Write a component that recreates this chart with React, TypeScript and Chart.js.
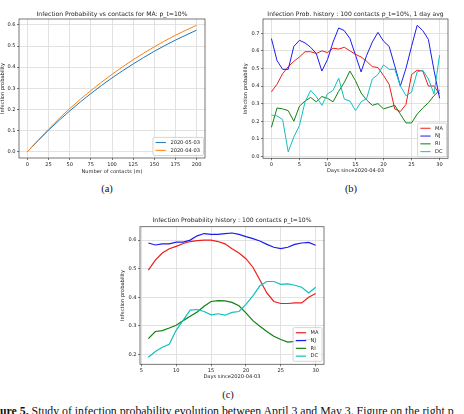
import React, { useEffect, useRef } from "react";
import { Chart, registerables } from "chart.js";
Chart.register(...registerables);

// ---------- (a) Infection probability vs contacts ----------
const contacts = [0, 25, 50, 75, 100, 125, 150, 175, 200];
const probMay03 = [0, 0.102, 0.193, 0.275, 0.349, 0.415, 0.475, 0.528, 0.575];
const probApr03 = [0, 0.107, 0.204, 0.289, 0.366, 0.435, 0.496, 0.551, 0.598];
const contactTicks = [0, 25, 50, 75, 100, 125, 150, 175, 200];
const probTicksA = [0, 0.1, 0.2, 0.3, 0.4, 0.5, 0.6];

// ---------- (b) 1 day avg history ----------
const daysB = [0, 1, 2, 3, 4, 5, 6, 7, 8, 9, 10, 11, 12, 13, 14, 15, 16, 17, 18, 19, 20, 21, 22, 23, 24, 25, 26, 27, 28, 29, 30];
const maDaily = [0.367, 0.41, 0.47, 0.51, 0.54, 0.565, 0.595, 0.595, 0.585, 0.6, 0.59, 0.615, 0.61, 0.62, 0.6, 0.58, 0.565, 0.54, 0.51, 0.505, 0.46, 0.41, 0.27, 0.255, 0.295, 0.465, 0.49, 0.485, 0.4, 0.4, 0.355];
const njDaily = [0.67, 0.545, 0.495, 0.495, 0.625, 0.66, 0.645, 0.62, 0.585, 0.485, 0.55, 0.65, 0.73, 0.715, 0.67, 0.575, 0.48, 0.575, 0.65, 0.705, 0.655, 0.625, 0.515, 0.4, 0.5, 0.625, 0.745, 0.715, 0.665, 0.49, 0.33];
const riDaily = [0.165, 0.275, 0.27, 0.26, 0.2, 0.285, 0.315, 0.335, 0.31, 0.34, 0.33, 0.31, 0.37, 0.42, 0.485, 0.43, 0.36, 0.32, 0.29, 0.3, 0.27, 0.28, 0.29, 0.24, 0.19, 0.19, 0.24, 0.275, 0.305, 0.345, 0.375];
const dcDaily = [0.235, 0.23, 0.21, 0.025, 0.11, 0.175, 0.31, 0.375, 0.34, 0.29, 0.355, 0.375, 0.445, 0.325, 0.315, 0.26, 0.31, 0.33, 0.44, 0.465, 0.52, 0.495, 0.495, 0.4, 0.345, 0.365, 0.48, 0.49, 0.44, 0.355, 0.575];
const dayTicksB = [0, 5, 10, 15, 20, 25, 30];
const probTicksB = [0, 0.1, 0.2, 0.3, 0.4, 0.5, 0.6, 0.7];

// ---------- (c) smoothed history ----------
const daysC = [6, 7, 8, 9, 10, 11, 12, 13, 14, 15, 16, 17, 18, 19, 20, 21, 22, 23, 24, 25, 26, 27, 28, 29, 30];
const maSmooth = [0.495, 0.53, 0.555, 0.57, 0.578, 0.588, 0.595, 0.598, 0.6, 0.6, 0.595, 0.587, 0.57, 0.555, 0.535, 0.505, 0.46, 0.415, 0.385, 0.378, 0.378, 0.38, 0.38, 0.4, 0.413];
const njSmooth = [0.59, 0.583, 0.587, 0.587, 0.593, 0.593, 0.6, 0.615, 0.623, 0.62, 0.62, 0.623, 0.625, 0.62, 0.612, 0.605, 0.597, 0.585, 0.575, 0.57, 0.575, 0.585, 0.59, 0.592, 0.582];
const riSmooth = [0.255, 0.28, 0.283, 0.292, 0.302, 0.318, 0.333, 0.348, 0.368, 0.385, 0.388, 0.387, 0.382, 0.37, 0.345, 0.318, 0.298, 0.28, 0.263, 0.252, 0.243, 0.245, 0.248, 0.252, 0.258];
const dcSmooth = [0.19, 0.21, 0.225, 0.235, 0.285, 0.32, 0.355, 0.357, 0.35, 0.338, 0.342, 0.337, 0.347, 0.35, 0.375, 0.405, 0.44, 0.455, 0.455, 0.445, 0.447, 0.442, 0.435, 0.415, 0.435];
const dayTicksC = [5, 10, 15, 20, 25, 30];
const probTicksC = [0.2, 0.3, 0.4, 0.5, 0.6];

const FAMILY = "DejaVu Sans";
const LABEL_SIZE = 5.1;
const TITLE_SIZE = 6.1;
const TEXT = "#222";

const pts = (xs: number[], ys: number[]) => xs.map((x, i) => ({ x, y: ys[i] }));

const decorPlugin = {
  id: "decor",
  afterDatasetsDraw(chart: any, _args: any, opts: any) {
    const { ctx, chartArea: a } = chart;
    ctx.save();
    ctx.strokeStyle = "#555";
    ctx.lineWidth = 0.8;
    ctx.strokeRect(a.left, a.top, a.right - a.left, a.bottom - a.top);
    ctx.fillStyle = TEXT;
    ctx.font = `${TITLE_SIZE}px ${FAMILY}`;
    ctx.textAlign = "center";
    ctx.textBaseline = "middle";
    ctx.fillText(opts.title, (a.left + a.right) / 2, a.top - opts.titleGap);

    const items = chart.data.datasets.map((d: any) => ({ label: d.label, color: d.borderColor }));
    ctx.font = `${LABEL_SIZE}px ${FAMILY}`;
    const tw = Math.max(...items.map((i: any) => ctx.measureText(i.label).width));
    const pad = 2.7, handle = 10.3, gap = 4.5, rowH = 7.8;
    const w = pad + handle + gap + tw + 3.5;
    const h = items.length * rowH + 2.5;
    const x1 = a.right - opts.legendRight;
    const x0 = x1 - w;
    const y1 = a.bottom - opts.legendBottom;
    const y0 = y1 - h;
    const r = 1.5;
    ctx.beginPath();
    ctx.moveTo(x0 + r, y0);
    ctx.lineTo(x1 - r, y0);
    ctx.quadraticCurveTo(x1, y0, x1, y0 + r);
    ctx.lineTo(x1, y1 - r);
    ctx.quadraticCurveTo(x1, y1, x1 - r, y1);
    ctx.lineTo(x0 + r, y1);
    ctx.quadraticCurveTo(x0, y1, x0, y1 - r);
    ctx.lineTo(x0, y0 + r);
    ctx.quadraticCurveTo(x0, y0, x0 + r, y0);
    ctx.closePath();
    ctx.fillStyle = "rgba(255,255,255,0.8)";
    ctx.fill();
    ctx.strokeStyle = "#cccccc";
    ctx.lineWidth = 0.8;
    ctx.stroke();
    items.forEach((it: any, i: number) => {
      const cy = y0 + 1.25 + rowH / 2 + i * rowH;
      ctx.strokeStyle = it.color;
      ctx.lineWidth = opts.legendLineWidth;
      ctx.beginPath();
      ctx.moveTo(x0 + pad, cy);
      ctx.lineTo(x0 + pad + handle, cy);
      ctx.stroke();
      ctx.fillStyle = TEXT;
      ctx.textAlign = "left";
      ctx.textBaseline = "middle";
      ctx.fillText(it.label, x0 + pad + handle + gap, cy);
    });
    ctx.restore();
  },
};

type Spec = { cx: number; cy: number; cw: number; ch: number; L: number; T: number; R: number; B: number; yTitleX: number; xTitleY: number };

function Plot(props: {
  spec: Spec;
  datasets: any[];
  xTicks: number[];
  yTicks: number[];
  xRange: [number, number];
  yRange: [number, number];
  xTitle: string;
  yTitle: string;
  decor: any;
}) {
  const ref = useRef<HTMLCanvasElement>(null);
  const { spec } = props;
  useEffect(() => {
    const half = (LABEL_SIZE * 1.2) / 2;
    const pl = Math.max(0, spec.yTitleX - spec.cx - half);
    const yW = spec.L - spec.cx - pl;
    const xH = spec.xTitleY - spec.B + half;
    const pb = spec.cy + spec.ch - spec.B - xH;
    const font = { family: FAMILY, size: LABEL_SIZE };
    const grid = { color: "#dadada", lineWidth: 0.8, tickColor: "#555", tickWidth: 0.8, tickLength: 2, drawTicks: true };
    const chart = new Chart(ref.current as HTMLCanvasElement, {
      type: "line",
      data: { datasets: props.datasets },
      options: {
        animation: false,
        responsive: false,
        maintainAspectRatio: false,
        devicePixelRatio: 1,
        layout: { padding: { left: pl, top: spec.T - spec.cy, right: spec.cx + spec.cw - spec.R, bottom: pb } },
        elements: { point: { radius: 0 } },
        plugins: { legend: { display: false }, tooltip: { enabled: false }, decor: props.decor } as any,
        scales: {
          x: {
            type: "linear",
            min: props.xRange[0],
            max: props.xRange[1],
            afterBuildTicks: (s: any) => {
              s.ticks = props.xTicks.map((v) => ({ value: v }));
            },
            afterFit: (s: any) => {
              s.height = xH;
            },
            ticks: { font, color: TEXT, padding: 1.5, autoSkip: false, maxRotation: 0, callback: (v: any) => String(v) },
            grid,
            border: { display: false },
            title: { display: true, text: props.xTitle, font, color: TEXT, padding: 0 },
          },
          y: {
            type: "linear",
            min: props.yRange[0],
            max: props.yRange[1],
            afterBuildTicks: (s: any) => {
              s.ticks = props.yTicks.map((v) => ({ value: v }));
            },
            afterFit: (s: any) => {
              s.width = yW;
            },
            ticks: { font, color: TEXT, padding: 1.5, autoSkip: false, callback: (v: any) => Number(v).toFixed(1) },
            grid,
            border: { display: false },
            title: { display: true, text: props.yTitle, font, color: TEXT, padding: 0 },
          },
        },
      } as any,
      plugins: [decorPlugin],
    });
    return () => chart.destroy();
  }, []);
  return (
    <canvas
      ref={ref}
      width={spec.cw}
      height={spec.ch}
      style={{ position: "absolute", left: spec.cx, top: spec.cy, width: spec.cw, height: spec.ch }}
    />
  );
}

const line = (label: string, color: string, xs: number[], ys: number[], order: number, width: number, smooth = false) => ({
  label,
  data: pts(xs, ys),
  borderColor: color,
  backgroundColor: color,
  borderWidth: width,
  fill: false,
  order,
  tension: 0,
  cubicInterpolationMode: smooth ? "monotone" : "default",
});

const caption = (text: string, x: number, y: number) => (
  <div
    style={{
      position: "absolute",
      left: x,
      top: y - 6,
      transform: "translateX(-50%)",
      font: "10.5px 'Liberation Serif', serif",
      lineHeight: "12px",
      color: "#111",
      whiteSpace: "nowrap",
    }}
  >
    {text}
  </div>
);

export default function App() {
  const specA: Spec = { cx: 0, cy: 0, cw: 232, ch: 180, L: 19, T: 19, R: 205, B: 158, yTitleX: 2.5, xTitleY: 171.7 };
  const specB: Spec = { cx: 232, cy: 0, cw: 232, ch: 180, L: 263, T: 19, R: 448, B: 158.3, yTitleX: 245.3, xTitleY: 171 };
  const specC: Spec = { cx: 100, cy: 200, cw: 264, ch: 185, L: 140, T: 226.7, R: 324, B: 364.3, yTitleX: 122.7, xTitleY: 376.7 };

  const dsA = [
    line("2020-05-03", "#1f77b4", contacts, probMay03, 2, 1, true),
    line("2020-04-03", "#ff7f0e", contacts, probApr03, 1, 1, true),
  ];
  const dsB = [
    line("MA", "#ee1c1c", daysB, maDaily, 4, 1),
    line("NJ", "#1c1cee", daysB, njDaily, 3, 1),
    line("RI", "#108010", daysB, riDaily, 2, 1),
    line("DC", "#10c0c0", daysB, dcDaily, 1, 1),
  ];
  const dsC = [
    line("MA", "#ee1c1c", daysC, maSmooth, 4, 1.2),
    line("NJ", "#1c1cee", daysC, njSmooth, 3, 1.2),
    line("RI", "#108010", daysC, riSmooth, 2, 1.2),
    line("DC", "#10c0c0", daysC, dcSmooth, 1, 1.2),
  ];

  return (
    <div style={{ position: "fixed", left: 0, top: 0, width: 464, height: 414, overflow: "hidden", background: "#fff" }}>
      <Plot
        spec={specA}
        datasets={dsA}
        xTicks={contactTicks}
        yTicks={probTicksA}
        xRange={[-10, 210]}
        yRange={[-0.0299, 0.6279]}
        xTitle="Number of contacts (m)"
        yTitle="Infection probability"
        decor={{ title: "Infection Probability vs contacts for MA: p_t=10%", titleGap: 4.3, legendRight: 1.5, legendBottom: 2.5, legendLineWidth: 1 }}
      />
      <Plot
        spec={specB}
        datasets={dsB}
        xTicks={dayTicksB}
        yTicks={probTicksB}
        xRange={[-1.5, 31.5]}
        yRange={[-0.011, 0.781]}
        xTitle="Days since2020-04-03"
        yTitle="Infection probability"
        decor={{ title: "Infection Prob. history : 100 contacts p_t=10%, 1 day avg", titleGap: 4.3, legendRight: 1.5, legendBottom: 1.5, legendLineWidth: 1 }}
      />
      <Plot
        spec={specC}
        datasets={dsC}
        xTicks={dayTicksC}
        yTicks={probTicksC}
        xRange={[4.8, 31.2]}
        yRange={[0.165, 0.647]}
        xTitle="Days since2020-04-03"
        yTitle="Infection probability"
        decor={{ title: "Infection Probability history : 100 contacts p_t=10%", titleGap: 6, legendRight: 2, legendBottom: 3, legendLineWidth: 1.2 }}
      />
      {caption("(a)", 107, 189)}
      {caption("(b)", 351, 189)}
      {caption("(c)", 228, 395)}
      <div
        style={{
          position: "absolute",
          left: 0,
          top: 404.5,
          font: "11.8px 'Liberation Serif', serif",
          lineHeight: "12px",
          color: "#111",
          whiteSpace: "nowrap",
        }}
      >
        <b>ure 5.</b> Study of infection probability evolution between April 3 and May 3. Figure on the right p
      </div>
    </div>
  );
}
